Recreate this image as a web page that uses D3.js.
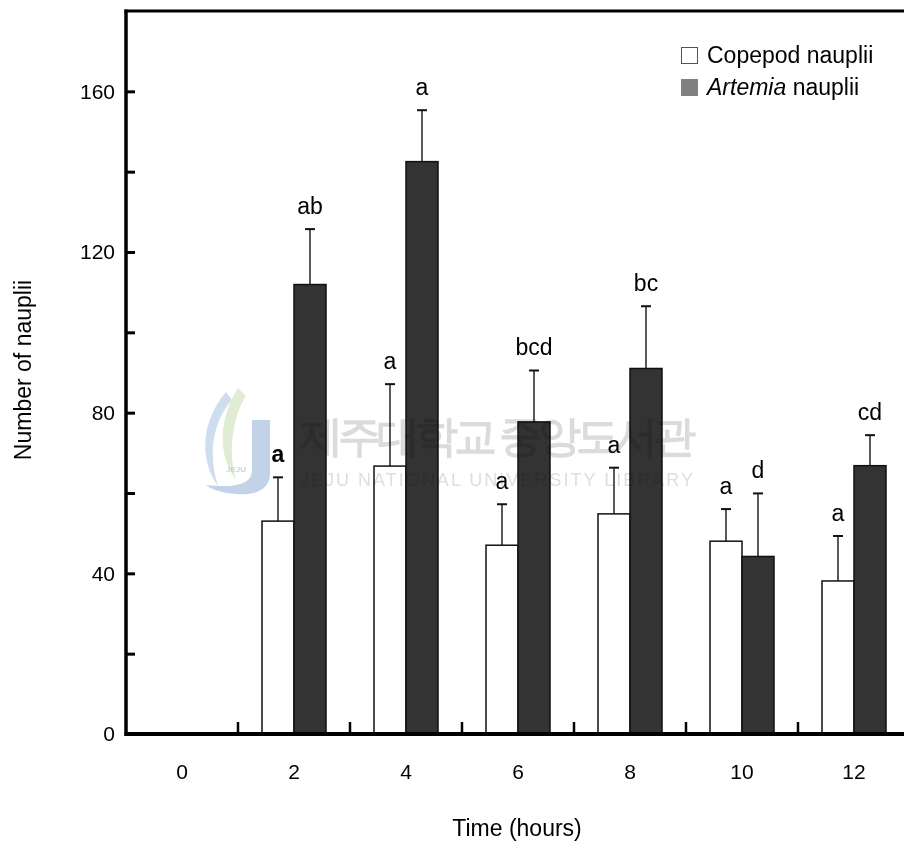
<!DOCTYPE html>
<html>
<head>
<meta charset="utf-8">
<script src="https://cdn.jsdelivr.net/npm/d3@7"></script>
<style>
	body { margin: 0; background: #fff; }
	text { font-family: Arial, "Liberation Sans", sans-serif; }
	#watermark { mix-blend-mode: multiply; }
</style>
</head>
<body>
<div id="chart"></div>
<script>

// Données

var times = ["0", "2", "4", "6", "8", "10", "12"];
var series = ["Copepod", "Artemia"];

var copepodMean = [null, 53, 66.7, 47, 54.8, 48, 38.1];
var copepodErr = [null, 10.9, 20.4, 10.2, 11.5, 8, 11.2];
var copepodLetter = ["", "a", "a", "a", "a", "a", "a"];

var artemiaMean = [null, 111.9, 142.5, 77.7, 91, 44.2, 66.8];
var artemiaErr = [null, 13.8, 12.8, 12.8, 15.5, 15.7, 7.6];
var artemiaLetter = ["", "ab", "a", "bcd", "bc", "d", "cd"];

var yTicks = [0, 20, 40, 60, 80, 100, 120, 140, 160];


// Création du svg

var svg = d3.select("#chart")
			.append("svg")
			.attr("width", 904)
			.attr("height", 844);

var pos = {"left": 126, "right": 910, "top": 11, "bottom": 734};

var x0 = d3.scaleBand()
			.domain(times)
			.range([pos.left, pos.right])
			.padding(0);

var x1 = d3.scaleBand()
			.domain(series)
			.range([0, x0.bandwidth()])
			.paddingOuter(0.75)
			.paddingInner(0);

var y = d3.scaleLinear()
			.domain([0, 180])
			.range([pos.bottom, pos.top]);


// Préparation des données des barres

var bars = [];
for(var i = 0; i < times.length; i++)
{
	if(copepodMean[i] != null)
	{
		bars.push({"t": times[i], "s": "Copepod", "v": copepodMean[i], "e": copepodErr[i], "l": copepodLetter[i], "bold": i == 1});
		bars.push({"t": times[i], "s": "Artemia", "v": artemiaMean[i], "e": artemiaErr[i], "l": artemiaLetter[i], "bold": false});
	}
}

var color = {"Copepod": "#ffffff", "Artemia": "#333333"};

function xCenter(d)
{
	return x0(d.t) + x1(d.s) + x1.bandwidth() / 2;
}


// Barres d'erreur (vers le haut seulement)

var errGroup = svg.append("g").attr("id", "errors");

errGroup.selectAll(".errline")
	.data(bars)
	.enter()
		.append("line")
		.attr("x1", xCenter)
		.attr("x2", xCenter)
		.attr("y1", function(d){return y(d.v);})
		.attr("y2", function(d){return y(d.v + d.e);})
		.attr("stroke", "#222")
		.attr("stroke-width", 1.5);

errGroup.selectAll(".errcap")
	.data(bars)
	.enter()
		.append("line")
		.attr("x1", function(d){return xCenter(d) - 5;})
		.attr("x2", function(d){return xCenter(d) + 5;})
		.attr("y1", function(d){return y(d.v + d.e);})
		.attr("y2", function(d){return y(d.v + d.e);})
		.attr("stroke", "#111")
		.attr("stroke-width", 2);


// Barres

svg.append("g").attr("id", "bars")
	.selectAll("rect")
	.data(bars)
	.enter()
		.append("rect")
		.attr("x", function(d){return x0(d.t) + x1(d.s);})
		.attr("y", function(d){return y(d.v);})
		.attr("width", x1.bandwidth())
		.attr("height", function(d){return y(0) - y(d.v);})
		.attr("fill", function(d){return color[d.s];})
		.attr("stroke", "#111")
		.attr("stroke-width", 1.5);


// Lettres de significativité

svg.append("g").attr("id", "letters")
	.selectAll("text")
	.data(bars)
	.enter()
		.append("text")
		.attr("x", xCenter)
		.attr("y", function(d){return y(d.v + d.e) - 15;})
		.attr("text-anchor", "middle")
		.attr("font-size", 23)
		.attr("font-weight", function(d){return d.bold ? "bold" : "normal";})
		.text(function(d){return d.l;});


// Axe Y

var yAxis = d3.axisLeft(y)
			.tickValues(yTicks)
			.tickSizeInner(-9)
			.tickSizeOuter(0)
			.tickPadding(11)
			.tickFormat(function(d){return d % 40 == 0 ? d : "";});

var gy = svg.append("g")
			.attr("transform", "translate(" + pos.left + ",0)")
			.call(yAxis);

gy.select(".domain").remove();
gy.selectAll(".tick line").attr("stroke", "#000").attr("stroke-width", 3);
gy.selectAll(".tick text")
	.attr("font-size", 21)
	.attr("font-family", "Arial, 'Liberation Sans', sans-serif")
	.attr("fill", "#000");


// Axe X : étiquettes au centre, graduations entre les groupes

var xAxis = d3.axisBottom(x0)
			.tickSize(0)
			.tickPadding(30);

var gx = svg.append("g")
			.attr("transform", "translate(0," + pos.bottom + ")")
			.call(xAxis);

gx.select(".domain").remove();
gx.selectAll(".tick text")
	.attr("font-size", 21)
	.attr("font-family", "Arial, 'Liberation Sans', sans-serif")
	.attr("fill", "#000");

svg.append("g").attr("id", "xminor")
	.selectAll("line")
	.data(times.slice(1))
	.enter()
		.append("line")
		.attr("x1", function(d){return x0(d);})
		.attr("x2", function(d){return x0(d);})
		.attr("y1", pos.bottom)
		.attr("y2", pos.bottom - 12)
		.attr("stroke", "#000")
		.attr("stroke-width", 2.5);


// Cadre : gauche, haut et bas

var frame = svg.append("g").attr("id", "frame");

frame.append("line")
	.attr("x1", pos.left).attr("x2", pos.left)
	.attr("y1", pos.top - 1.5).attr("y2", pos.bottom + 2)
	.attr("stroke", "#000").attr("stroke-width", 3.5);

frame.append("line")
	.attr("x1", pos.left - 1.5).attr("x2", pos.right)
	.attr("y1", pos.top).attr("y2", pos.top)
	.attr("stroke", "#000").attr("stroke-width", 3);

frame.append("line")
	.attr("x1", pos.left - 1.5).attr("x2", pos.right)
	.attr("y1", pos.bottom).attr("y2", pos.bottom)
	.attr("stroke", "#000").attr("stroke-width", 4);


// Titres des axes

svg.append("text")
	.attr("x", 517)
	.attr("y", 836)
	.attr("text-anchor", "middle")
	.attr("font-size", 23)
	.text("Time (hours)");

svg.append("text")
	.attr("transform", "translate(31," + 370 + ") rotate(-90)")
	.attr("text-anchor", "middle")
	.attr("font-size", 23)
	.text("Number of nauplii");


// Légende

var legend = svg.append("g").attr("id", "legend");

legend.append("rect")
	.attr("x", 681.5).attr("y", 47.5)
	.attr("width", 16).attr("height", 16)
	.attr("fill", "#fff")
	.attr("stroke", "#555")
	.attr("stroke-width", 1);

legend.append("text")
	.attr("x", 707).attr("y", 63)
	.attr("font-size", 23)
	.text("Copepod nauplii");

legend.append("rect")
	.attr("x", 681).attr("y", 79)
	.attr("width", 17).attr("height", 17)
	.attr("fill", "#808080");

var lt = legend.append("text")
	.attr("x", 707).attr("y", 95)
	.attr("font-size", 23);
lt.append("tspan").attr("font-style", "italic").text("Artemia");
lt.append("tspan").text(" nauplii");


// Filigrane de la bibliothèque (par-dessus, en mode multiply)

var wm = svg.append("g").attr("id", "watermark").attr("opacity", 0.8);

wm.append("path")
	.attr("d", "M226,392 C202,420 198,458 218,486 C208,456 212,422 232,400 Z")
	.attr("fill", "#c3d6ea");
wm.append("path")
	.attr("d", "M238,388 C218,420 218,456 236,480 C228,452 232,418 246,396 Z")
	.attr("fill", "#d9e8c8");
wm.append("path")
	.attr("d", "M252,420 L270,420 L270,474 C270,490 254,496 236,494 C224,493 212,490 206,485 C226,487 252,488 252,470 Z")
	.attr("fill", "#b3c8e4");
wm.append("text")
	.attr("x", 236)
	.attr("y", 472)
	.attr("text-anchor", "middle")
	.attr("font-size", 8)
	.attr("font-weight", "bold")
	.attr("fill", "#b8c6d6")
	.text("JEJU");

wm.append("text")
	.attr("x", 300)
	.attr("y", 451)
	.attr("textLength", 396)
	.attr("font-family", "'Noto Sans CJK KR', sans-serif")
	.attr("font-weight", "bold")
	.attr("font-size", 43)
	.attr("fill", "#d2d2d2")
	.text("제주대학교 중앙도서관");

wm.append("text")
	.attr("x", 300)
	.attr("y", 486)
	.attr("textLength", 393)
	.attr("font-size", 18)
	.attr("fill", "#d6d6d6")
	.text("JEJU NATIONAL UNIVERSITY LIBRARY");

</script>
</body>
</html>
